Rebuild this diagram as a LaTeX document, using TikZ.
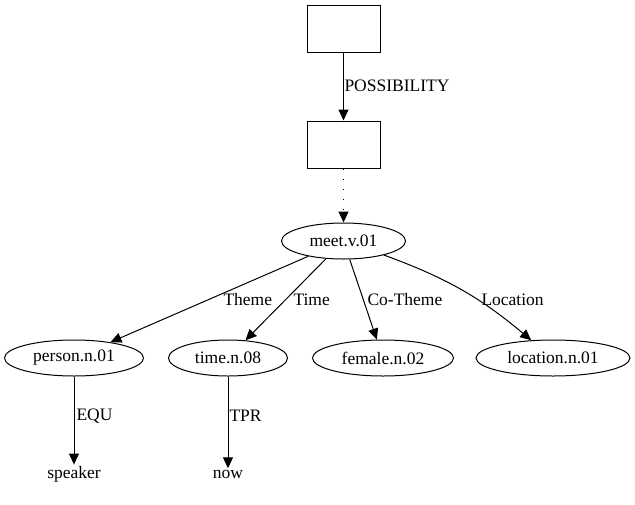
\documentclass[tikz,border=0pt]{standalone}
\usepackage{fontspec}
\setmainfont{Liberation Serif}
\usetikzlibrary{arrows.meta, shapes.geometric}

\begin{document}
\begin{tikzpicture}[x=1pt, y=-1pt,
    font=\fontsize{17.5}{20}\selectfont,
    line width=1pt,
    box/.style={draw, rectangle, minimum width=73pt, minimum height=47pt, inner sep=0pt},
    concept/.style={draw, ellipse, minimum height=36pt, inner sep=0pt},
    leaf/.style={inner sep=1pt},
    lbl/.style={inner sep=1pt, anchor=west},
    edge/.style={-{Triangle[length=11pt, width=10pt]}},
  ]
    \useasboundingbox (0,0) rectangle (635,504);

    % boxes
    \node[box] (b1) at (343.5, 28.5) {};
    \node[box] (b2) at (343.5, 144.5) {};

    % level 0
    \node[concept, minimum width=124pt] (meet) at (343.5, 241) {meet.v.01};

    % level 1
    \node[concept, minimum width=139pt] (person) at (74, 358) {person.n.01};
    \node[concept, minimum width=119pt] (time) at (228, 358) {time.n.08};
    \node[concept, minimum width=141pt] (female) at (383, 358) {female.n.02};
    \node[concept, minimum width=154pt] (location) at (553, 358) {location.n.01};

    % level 2
    \node[leaf] (speaker) at (74, 474) {speaker};
    \node[leaf] (now) at (228, 474) {now};

    % edges
    \draw[edge] (b1) -- (b2);
    \draw[edge, dash pattern=on 1.5pt off 8.5pt] (b2) -- (meet);
    \draw[edge] (meet) -- (person);
    \draw[edge] (meet) -- (time);
    \draw[edge] (meet) -- (female);
    \draw[edge] (meet) to[bend left=10] (location);
    \draw[edge] (person) -- (speaker);
    \draw[edge] (time) -- (now);

    % edge labels
    \node[lbl] (lposs) at (343, 86) {POSSIBILITY};
    \node[lbl] (ltheme) at (222, 300) {Theme};
    \node[lbl] (ltime) at (292, 300) {Time};
    \node[lbl] (lcotheme) at (366, 300) {Co-Theme};
    \node[lbl] (lloc) at (480, 300) {Location};
    \node[lbl] (lequ) at (75, 416) {EQU};
    \node[lbl] (ltpr) at (228, 416) {TPR};
\end{tikzpicture}
\end{document}
